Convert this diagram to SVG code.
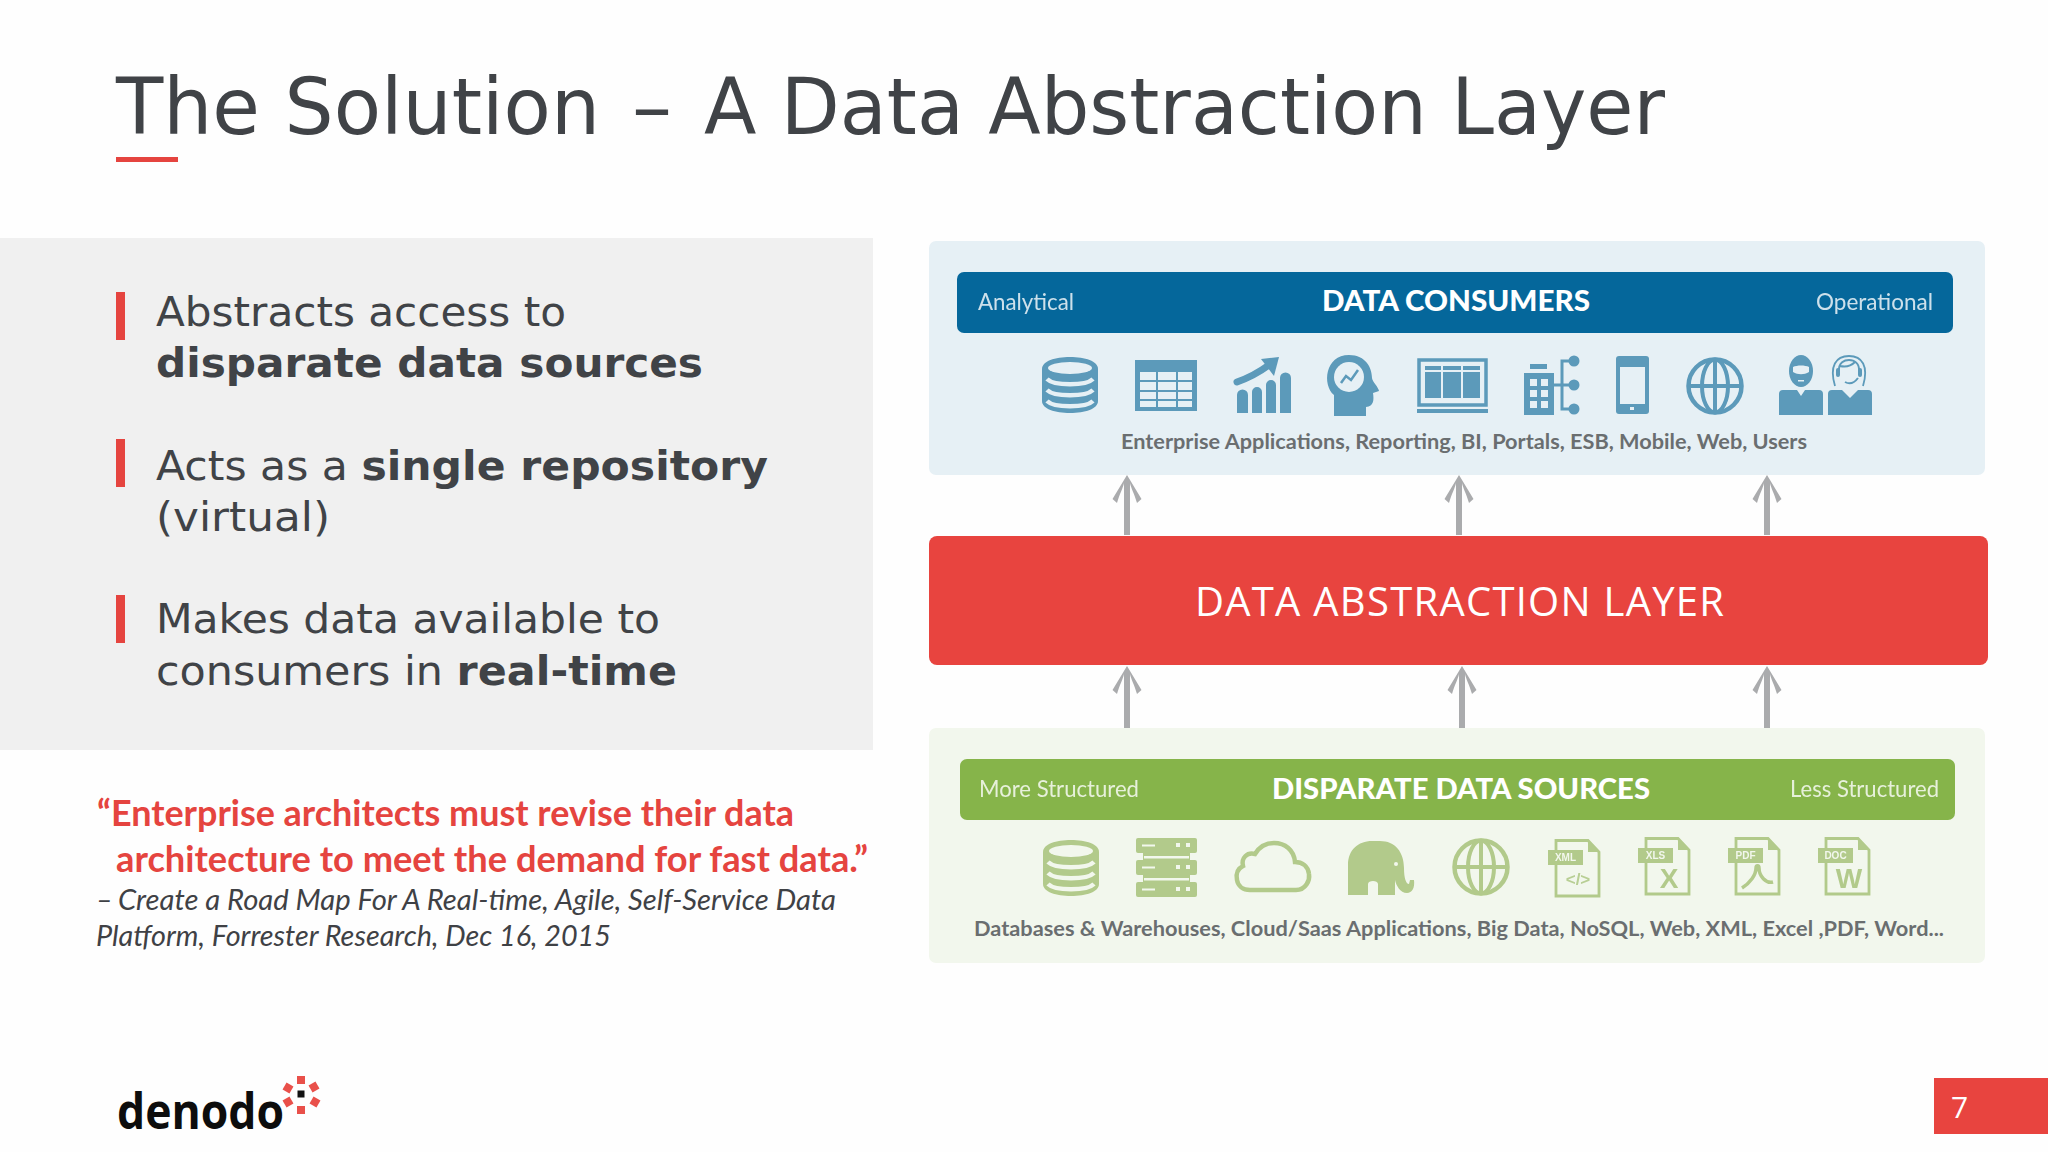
<svg xmlns="http://www.w3.org/2000/svg" xmlns:xlink="http://www.w3.org/1999/xlink" width="2048" height="1152" viewBox="0 0 2048 1152">
<style>
.t{font-family:"DejaVu Sans",Verdana,sans-serif;fill:#404347}
.b{font-weight:700}
.q{font-family:Lato,"Open Sans",sans-serif;font-weight:700;font-size:36px;fill:#e5443f}
.c{font-family:Lato,"Open Sans",sans-serif;font-style:italic;font-size:29px;fill:#3f4145}
.lab{font-family:Lato,"Open Sans",sans-serif;font-size:23px;fill:#fff;opacity:.8}
.hd{font-family:Lato,"Open Sans",sans-serif;font-weight:900;font-size:29px;fill:#fff}
.sub{font-family:Lato,"Open Sans",sans-serif;font-weight:700;font-size:21px;fill:#6a6e70}
.blue{color:#5c9aba;--bg:#e6f0f5}
.green{color:#b2ca8b;--bg:#f2f7ed}
.fc{fill:currentColor}
.bgf{fill:var(--bg)}
.sc{fill:none;stroke:currentColor}
.sb{fill:none;stroke:var(--bg)}
.tag{font-family:"Liberation Sans",sans-serif;font-weight:700;font-size:10px;fill:#f2f7ed;text-anchor:middle}
.sym{font-family:"Liberation Sans",sans-serif;font-weight:700;fill:currentColor;text-anchor:middle}
.conn{fill:none;stroke:#aaabad;stroke-width:6}
</style>
<defs>
<filter id="soft" x="-5%" y="-5%" width="110%" height="110%"><feGaussianBlur stdDeviation="0.55"/></filter>
<marker id="ah" markerUnits="userSpaceOnUse" markerWidth="30" markerHeight="30" refX="20" refY="0" viewBox="0 -15 30 30" orient="auto">
<path d="M28 0L4 -14.500L0 -10C10 -7 15 -4 20 -3V3C15 4 10 7 0 10L4 14.500Z" fill="#aaabad" stroke="none"/>
</marker>
<g id="db">
<path class="fc" d="M0 12C0 4 13 0 28 0S56 4 56 12V44C56 52 43 56 28 56S0 52 0 44Z"/>
<ellipse class="bgf" cx="28" cy="11" rx="22" ry="6"/>
<path class="sb" stroke-width="4.500" d="M5 22C12 29 44 29 51 22M5 33C12 40 44 40 51 33M5 44C12 51 44 51 51 44"/>
</g>
<g id="globe">
<circle class="sc" cx="29" cy="29" r="26.500" stroke-width="4.500"/>
<ellipse class="sc" cx="29" cy="29" rx="13" ry="26.500" stroke-width="4"/>
<path class="sc" stroke-width="4" d="M29 2V56M2 29H56"/>
</g>
<g id="doc">
<path class="bgf" d="M8 1H40L52 13V57H8Z"/>
<path class="sc" stroke-width="2.800" d="M8 1.500H40L51 13V57H8Z"/>
<path class="fc" d="M40 1L52 13H40Z"/>
<rect class="fc" x="0" y="11" width="35" height="15"/>
</g>
</defs>
<rect width="2048" height="1152" fill="#fefefe"/>

<g id="title">
<text class="t" x="116" y="134" font-size="78" textLength="484" lengthAdjust="spacingAndGlyphs">The Solution</text>
<text class="t" x="632" y="134" font-size="78" textLength="40" lengthAdjust="spacingAndGlyphs">–</text>
<text class="t" x="704" y="134" font-size="78" textLength="961" lengthAdjust="spacingAndGlyphs">A Data Abstraction Layer</text>
<rect x="116" y="157" width="62" height="5" fill="#e5443f"/>
</g>

<g id="benefits">
<rect x="0" y="238" width="873" height="512" fill="#f0f0f0"/>
<rect x="116" y="292" width="9" height="48" fill="#e5443f"/>
<text class="t" x="156" y="326" font-size="41" textLength="410" lengthAdjust="spacingAndGlyphs">Abstracts access to</text>
<text class="t b" x="156" y="377" font-size="41" textLength="547" lengthAdjust="spacingAndGlyphs">disparate data sources</text>
<rect x="116" y="439" width="9" height="48" fill="#e5443f"/>
<text class="t" x="156" y="480" font-size="41" textLength="612" lengthAdjust="spacingAndGlyphs">Acts as a <tspan class="b">single repository</tspan></text>
<text class="t" x="156" y="531" font-size="41" textLength="174" lengthAdjust="spacingAndGlyphs">(virtual)</text>
<rect x="116" y="595" width="9" height="48" fill="#e5443f"/>
<text class="t" x="156" y="633" font-size="41" textLength="504" lengthAdjust="spacingAndGlyphs">Makes data available to</text>
<text class="t" x="156" y="685" font-size="41" textLength="521" lengthAdjust="spacingAndGlyphs">consumers in <tspan class="b">real-time</tspan></text>
</g>

<g id="quote">
<text class="q" x="97" y="826" textLength="697" lengthAdjust="spacingAndGlyphs">“Enterprise architects must revise their data</text>
<text class="q" x="116" y="872" textLength="752" lengthAdjust="spacingAndGlyphs">architecture to meet the demand for fast data.”</text>
<text class="c" x="96" y="910">–</text>
<text class="c" x="118" y="910" textLength="718" lengthAdjust="spacingAndGlyphs">Create a Road Map For A Real-time, Agile, Self-Service Data</text>
<text class="c" x="96" y="946" textLength="515" lengthAdjust="spacingAndGlyphs">Platform, Forrester Research, Dec 16, 2015</text>
</g>

<g id="connectors" class="conn">
<path marker-end="url(#ah)" d="M1127 535V483"/>
<path marker-end="url(#ah)" d="M1459 535V483"/>
<path marker-end="url(#ah)" d="M1767 535V483"/>
<path marker-end="url(#ah)" d="M1127 728V674"/>
<path marker-end="url(#ah)" d="M1462 728V674"/>
<path marker-end="url(#ah)" d="M1767 728V674"/>
</g>

<g id="data-consumers" class="blue">
<rect x="929" y="241" width="1056" height="234" rx="7" fill="#e6f0f5"/>
<rect x="957" y="272" width="996" height="61" rx="7" fill="#05679b"/>
<text class="lab" x="978" y="310" textLength="96" lengthAdjust="spacingAndGlyphs">Analytical</text>
<text class="hd" x="1322" y="311" textLength="268" lengthAdjust="spacingAndGlyphs">DATA CONSUMERS</text>
<text class="lab" x="1816" y="310" textLength="117" lengthAdjust="spacingAndGlyphs">Operational</text>
<g filter="url(#soft)">
<use xlink:href="#db" href="#db" x="1042" y="357"/>
<g>
<rect class="fc" x="1135" y="360" width="62" height="51"/>
<path class="bgf" d="M1140 372h16v8h-16zM1158 372h18v8h-18zM1178 372h14v8h-14zM1140 382h16v8h-16zM1158 382h18v8h-18zM1178 382h14v8h-14zM1140 392h16v7h-16zM1158 392h18v7h-18zM1178 392h14v7h-14zM1140 401h16v6h-16zM1158 401h18v6h-18zM1178 401h14v6h-14z"/>
</g>
<g>
<path class="fc" d="M1237 395a5 5 0 0 1 11 0v18h-11zM1252 392a5 5 0 0 1 10 0v21h-10zM1266 385a5 5 0 0 1 10 0v28h-10zM1280 378a5 5 0 0 1 11 0v35h-11z"/>
<path class="sc" stroke-width="7" stroke-linecap="round" d="M1237 382Q1254 376 1269 365"/>
<path class="fc" d="M1279 357L1261 359L1274 376Z"/>
</g>
<g>
<path class="fc" d="M1334 395C1322 385 1325 355 1349 355C1366 355 1372 368 1372 378C1372 381 1379 388 1379 391L1373 393C1374 400 1374 406 1366 407V416H1334Z"/>
<circle class="bgf" cx="1349" cy="377" r="15"/>
<path class="sc" stroke-width="2.500" d="M1341 383L1346 376L1351 380L1358 370"/>
</g>
<g>
<rect class="sc" x="1419" y="360" width="67" height="45" stroke-width="3.500"/>
<rect class="fc" x="1417" y="409" width="71" height="4"/>
<path class="fc" d="M1425 366h16v4h-16zM1443 366h18v4h-18zM1463 366h17v4h-17zM1425 372h16v26h-16zM1443 372h18v26h-18zM1463 372h17v26h-17z"/>
</g>
<g>
<rect class="fc" x="1524" y="373" width="30" height="42"/>
<rect class="fc" x="1530" y="364" width="17" height="5"/>
<path class="bgf" d="M1530 379h7v7h-7zM1541 379h7v7h-7zM1530 390h7v7h-7zM1541 390h7v7h-7zM1530 401h7v7h-7zM1541 401h7v7h-7z"/>
<path class="sc" stroke-width="3" d="M1554 385H1572M1574 361H1562V409H1574"/>
<circle class="fc" cx="1574" cy="361" r="5.500"/><circle class="fc" cx="1574" cy="385" r="5.500"/><circle class="fc" cx="1574" cy="409" r="5.500"/>
</g>
<g>
<rect class="fc" x="1616" y="356" width="33" height="58" rx="3"/>
<rect class="bgf" x="1620" y="367" width="25" height="37"/>
<rect class="bgf" x="1630" y="407" width="4" height="3"/>
</g>
<use xlink:href="#globe" href="#globe" x="1686" y="357"/>
<g>
<ellipse class="fc" cx="1801" cy="371" rx="12" ry="16"/>
<path class="bgf" d="M1793 372C1798 375 1804 375 1809 372L1809 367C1805 365 1797 365 1793 367Z"/>
<path class="bgf" d="M1798 380h6v1.500h-6z"/>
<path class="fc" d="M1783 390H1797L1801 396L1805 390H1819Q1823 390 1823 394V415H1779V394Q1779 390 1783 390Z"/>
<path class="sc" stroke-width="1.800" d="M1835 386C1829 366 1836 356 1849 356C1862 356 1869 366 1863 386"/>
<ellipse class="bgf" cx="1849" cy="372" rx="11" ry="13"/>
<path class="sc" stroke-width="2" d="M1839 372C1838 362 1845 360 1849 360C1854 360 1860 363 1859 372M1840 366Q1849 368 1855 362M1845 382Q1852 386 1858 378"/>
<rect class="fc" x="1836" y="368" width="4" height="9" rx="2"/><rect class="fc" x="1858" y="368" width="4" height="9" rx="2"/>
<path class="fc" d="M1832 390H1842L1850 398L1858 390H1868Q1872 390 1872 394V415H1828V394Q1828 390 1832 390Z"/>
</g>
</g>
<text class="sub" x="1121" y="449" textLength="686" lengthAdjust="spacingAndGlyphs">Enterprise Applications, Reporting, BI, Portals, ESB, Mobile, Web, Users</text>
</g>

<g id="data-abstraction-layer">
<rect x="929" y="536" width="1059" height="129" rx="8" fill="#e8443f"/>
<text x="1195" y="616" font-family="Open Sans,Noto Sans,sans-serif" font-size="40" fill="#fff" textLength="529" lengthAdjust="spacing">DATA ABSTRACTION LAYER</text>
</g>

<g id="disparate-data-sources" class="green">
<rect x="929" y="728" width="1056" height="235" rx="7" fill="#f2f7ed"/>
<rect x="960" y="759" width="995" height="61" rx="7" fill="#86b44a"/>
<text class="lab" x="979" y="797" textLength="160" lengthAdjust="spacingAndGlyphs">More Structured</text>
<text class="hd" x="1272" y="799" textLength="378" lengthAdjust="spacingAndGlyphs">DISPARATE DATA SOURCES</text>
<text class="lab" x="1790" y="797" textLength="149" lengthAdjust="spacingAndGlyphs">Less Structured</text>
<g filter="url(#soft)">
<use xlink:href="#db" href="#db" x="1043" y="840"/>
<g>
<path class="fc" d="M1143 852h47v10h-47zM1143 874h47v10h-47z"/>
<path class="bgf" d="M1144 856h45v2.500h-45zM1144 878h45v2.500h-45z"/>
<rect class="fc" x="1136" y="838" width="61" height="15" rx="2"/>
<rect class="fc" x="1136" y="860" width="61" height="15" rx="2"/>
<rect class="fc" x="1136" y="882" width="61" height="15" rx="2"/>
<path class="bgf" d="M1142 844.500h13v2h-13zM1176 843h4v4h-4zM1186 843h4v4h-4zM1142 866.500h13v2h-13zM1176 865h4v4h-4zM1186 865h4v4h-4zM1142 888.500h13v2h-13zM1176 887h4v4h-4zM1186 887h4v4h-4z"/>
</g>
<path class="sc" stroke-width="4.500" d="M1250 890H1296C1306 890 1310 880 1309 874C1308 866 1302 862 1295 862C1294 850 1285 843 1274 843C1264 843 1258 849 1255 854C1247 852 1241 858 1243 866C1237 869 1236 875 1237 880C1238 886 1243 890 1250 890Z"/>
<g>
<path class="fc" d="M1348 895V865C1348 850 1358 841 1372 841H1380C1395 841 1404 852 1404 868C1404 878 1406 884 1409 884L1410 880H1414C1415 888 1412 893 1407 893C1400 893 1396 885 1395 880V895H1378V884C1378 880 1368 880 1368 884V895Z"/>
<circle class="bgf" cx="1396" cy="864" r="2"/>
</g>
<use xlink:href="#globe" href="#globe" x="1452" y="838"/>
<g transform="translate(1548 839)">
<use xlink:href="#doc" href="#doc"/>
<text class="tag" x="17.500" y="22">XML</text>
<text class="sym" x="30" y="46" font-size="17" font-weight="400" opacity=".9">&lt;/&gt;</text>
</g>
<g transform="translate(1638 837)">
<use xlink:href="#doc" href="#doc"/>
<text class="tag" x="17.500" y="22">XLS</text>
<text class="sym" x="31" y="51" font-size="28">X</text>
</g>
<g transform="translate(1728 837)">
<use xlink:href="#doc" href="#doc"/>
<text class="tag" x="17.500" y="22">PDF</text>
<path class="sc" stroke-width="3.500" d="M14 51C22 46 28 38 28 31C28 28 31 28 31 31C31 39 38 47 45 45"/>
</g>
<g transform="translate(1818 837)">
<use xlink:href="#doc" href="#doc"/>
<text class="tag" x="17.500" y="22">DOC</text>
<text class="sym" x="31" y="51" font-size="28">W</text>
</g>
</g>
<text class="sub" x="974" y="936" textLength="970" lengthAdjust="spacingAndGlyphs">Databases &amp; Warehouses, Cloud/Saas Applications, Big Data, NoSQL, Web, XML, Excel ,PDF, Word...</text>
</g>

<g id="logo">
<text x="117" y="1129" font-family="Open Sans,Noto Sans,sans-serif" font-weight="700" font-size="51" fill="#0d0d0d" textLength="167" lengthAdjust="spacingAndGlyphs">denodo</text>
<rect x="297.500" y="1090.500" width="7" height="7" fill="#111"/>
<g fill="#e9504a">
<rect x="297" y="1076" width="8" height="8"/>
<rect x="297" y="1106" width="8" height="8"/>
<rect x="284" y="1084" width="8" height="8" transform="rotate(30 288 1088)"/>
<rect x="310" y="1083" width="8" height="8" transform="rotate(-30 314 1087)"/>
<rect x="284" y="1098" width="8" height="8" transform="rotate(-30 288 1102)"/>
<rect x="311" y="1098" width="8" height="8" transform="rotate(30 315 1102)"/>
</g>
</g>

<g id="page-number">
<rect x="1934" y="1078" width="114" height="56" fill="#e8443f"/>
<text x="1951" y="1118" font-family="Open Sans,sans-serif" font-size="30" fill="#fff">7</text>
</g>
</svg>
